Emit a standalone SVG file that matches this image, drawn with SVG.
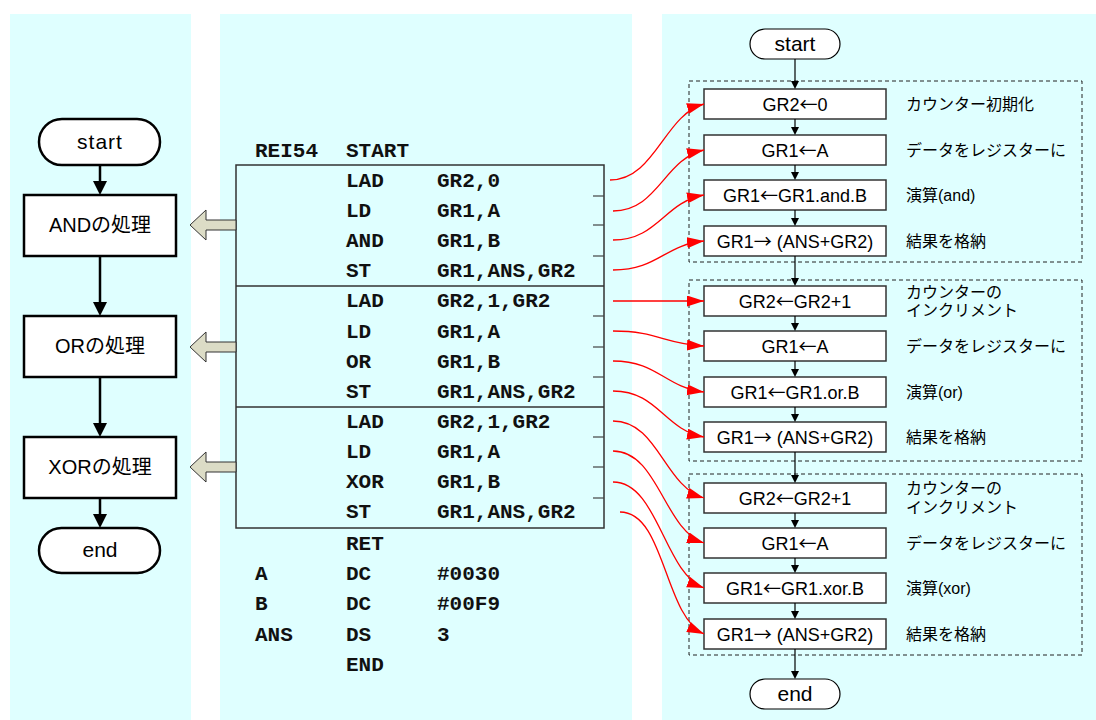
<svg xmlns="http://www.w3.org/2000/svg" width="1096" height="720" viewBox="0 0 1096 720">
<style>
.panel{fill:#DFFFFF}
.lbox{fill:#fff;stroke:#000;stroke-width:2.5}
.ltxt{font-family:"Liberation Sans","Noto Sans CJK JP",sans-serif;font-size:20px;fill:#000;text-anchor:middle}
.term{font-family:"Liberation Sans","Noto Sans CJK JP",sans-serif;font-size:21px;fill:#000;text-anchor:middle}
.rbox{fill:#fff;stroke:#333;stroke-width:1.5}
.rterm{fill:#fff;stroke:#000;stroke-width:1.2}
.rtxt{font-family:"Liberation Sans","Noto Sans CJK JP",sans-serif;font-size:18px;fill:#000;text-anchor:middle}
.ar{font-family:"Noto Sans CJK JP",sans-serif}
.cmt{font-family:"Liberation Sans","Noto Sans CJK JP",sans-serif;font-size:16px;fill:#000}
.code{font-family:"Liberation Mono","Courier New",monospace;font-weight:bold;font-size:21px;fill:#111}
.grp{fill:none;stroke:#222;stroke-width:1;stroke-dasharray:4 3}
.flow{stroke:#000;stroke-width:1.2;fill:none}
.lflow{stroke:#000;stroke-width:2.5;fill:none}
.red{stroke:#f00;stroke-width:1.3;fill:none;marker-end:url(#ra)}
.hollow{fill:#DCDCC6;stroke:#333;stroke-width:1}
.tick{stroke:#444;stroke-width:1.2}
</style>
<defs>
<marker id="ra" markerUnits="userSpaceOnUse" markerWidth="18" markerHeight="12" refX="17" refY="5.5" orient="auto">
<path d="M0,0 L17,5.5 L0,11 z" fill="#f00"/>
</marker>
</defs>

<!-- panels -->
<rect class="panel" x="10" y="14" width="181" height="706"/>
<rect class="panel" x="220" y="14" width="412" height="706"/>
<rect class="panel" x="662" y="14" width="434" height="706"/>

<!-- left flowchart -->
<g id="l-start"><rect class="lbox" x="39" y="119" width="121" height="46" rx="23"/><text class="term" x="100" y="149" letter-spacing="1">start</text></g>
<g id="l-and"><rect class="lbox" x="24" y="195" width="152" height="61"/><text class="ltxt" x="100" y="232">ANDの処理</text></g>
<g id="l-or"><rect class="lbox" x="24" y="316" width="152" height="61"/><text class="ltxt" x="100" y="353">ORの処理</text></g>
<g id="l-xor"><rect class="lbox" x="24" y="437" width="152" height="61"/><text class="ltxt" x="100" y="474">XORの処理</text></g>
<g id="l-end"><rect class="lbox" x="39" y="528" width="121" height="45" rx="22.5"/><text class="term" x="100" y="557">end</text></g>

<!-- code listing -->
<g id="code-block">
<rect x="236" y="165" width="368" height="363" fill="none" stroke="#333" stroke-width="1.5"/>
<line x1="236" y1="286" x2="604" y2="286" stroke="#333" stroke-width="1.5"/>
<line x1="236" y1="407" x2="604" y2="407" stroke="#333" stroke-width="1.5"/>
<line class="tick" x1="593" y1="196" x2="604" y2="196"/>
<line class="tick" x1="593" y1="225" x2="604" y2="225"/>
<line class="tick" x1="593" y1="256" x2="604" y2="256"/>
<line class="tick" x1="593" y1="316" x2="604" y2="316"/>
<line class="tick" x1="593" y1="347" x2="604" y2="347"/>
<line class="tick" x1="593" y1="377" x2="604" y2="377"/>
<line class="tick" x1="593" y1="437" x2="604" y2="437"/>
<line class="tick" x1="593" y1="467" x2="604" y2="467"/>
<line class="tick" x1="593" y1="498" x2="604" y2="498"/>
<text class="code" x="255" y="157">REI54</text><text class="code" x="346" y="157">START</text>
<text class="code" x="346" y="187">LAD</text><text class="code" x="437" y="187">GR2,0</text>
<text class="code" x="346" y="217">LD</text><text class="code" x="437" y="217">GR1,A</text>
<text class="code" x="346" y="247">AND</text><text class="code" x="437" y="247">GR1,B</text>
<text class="code" x="346" y="277">ST</text><text class="code" x="437" y="277">GR1,ANS,GR2</text>
<text class="code" x="346" y="307">LAD</text><text class="code" x="437" y="307">GR2,1,GR2</text>
<text class="code" x="346" y="338">LD</text><text class="code" x="437" y="338">GR1,A</text>
<text class="code" x="346" y="368">OR</text><text class="code" x="437" y="368">GR1,B</text>
<text class="code" x="346" y="398">ST</text><text class="code" x="437" y="398">GR1,ANS,GR2</text>
<text class="code" x="346" y="428">LAD</text><text class="code" x="437" y="428">GR2,1,GR2</text>
<text class="code" x="346" y="458">LD</text><text class="code" x="437" y="458">GR1,A</text>
<text class="code" x="346" y="488">XOR</text><text class="code" x="437" y="488">GR1,B</text>
<text class="code" x="346" y="518">ST</text><text class="code" x="437" y="518">GR1,ANS,GR2</text>
<text class="code" x="346" y="550">RET</text>
<text class="code" x="255" y="580">A</text><text class="code" x="346" y="580">DC</text><text class="code" x="437" y="580">#0030</text>
<text class="code" x="255" y="610">B</text><text class="code" x="346" y="610">DC</text><text class="code" x="437" y="610">#00F9</text>
<text class="code" x="255" y="641">ANS</text><text class="code" x="346" y="641">DS</text><text class="code" x="437" y="641">3</text>
<text class="code" x="346" y="671">END</text>
</g>

<!-- right flowchart groups -->
<rect class="grp" x="689" y="81" width="393" height="181"/>
<rect class="grp" x="689" y="280" width="393" height="181"/>
<rect class="grp" x="689" y="474" width="393" height="181"/>

<g id="r-start"><rect class="rterm" x="750" y="29" width="90" height="30" rx="15"/><text class="term" x="795" y="51">start</text></g>

<g id="r-b1"><rect class="rbox" x="704" y="89" width="182" height="30"/><text class="rtxt" x="795" y="110.5">GR2<tspan class="ar">←</tspan>0</text><text class="cmt" x="906" y="110">カウンター初期化</text></g>
<g id="r-b2"><rect class="rbox" x="704" y="135" width="182" height="30"/><text class="rtxt" x="795" y="156.5">GR1<tspan class="ar">←</tspan>A</text><text class="cmt" x="906" y="156">データをレジスターに</text></g>
<g id="r-b3"><rect class="rbox" x="704" y="180" width="182" height="30"/><text class="rtxt" x="795" y="201.5">GR1<tspan class="ar">←</tspan>GR1.and.B</text><text class="cmt" x="906" y="201">演算(and)</text></g>
<g id="r-b4"><rect class="rbox" x="704" y="226" width="182" height="30"/><text class="rtxt" x="795" y="247.5">GR1<tspan class="ar">→</tspan> (ANS+GR2)</text><text class="cmt" x="906" y="247">結果を格納</text></g>

<g id="r-b5"><rect class="rbox" x="704" y="286" width="182" height="30"/><text class="rtxt" x="795" y="307.5">GR2<tspan class="ar">←</tspan>GR2+1</text><text class="cmt" x="906" y="297.5">カウンターの</text><text class="cmt" x="906" y="316">インクリメント</text></g>
<g id="r-b6"><rect class="rbox" x="704" y="331" width="182" height="30"/><text class="rtxt" x="795" y="352.5">GR1<tspan class="ar">←</tspan>A</text><text class="cmt" x="906" y="352">データをレジスターに</text></g>
<g id="r-b7"><rect class="rbox" x="704" y="377" width="182" height="30"/><text class="rtxt" x="795" y="398.5">GR1<tspan class="ar">←</tspan>GR1.or.B</text><text class="cmt" x="906" y="398">演算(or)</text></g>
<g id="r-b8"><rect class="rbox" x="704" y="422" width="182" height="30"/><text class="rtxt" x="795" y="443.5">GR1<tspan class="ar">→</tspan> (ANS+GR2)</text><text class="cmt" x="906" y="443">結果を格納</text></g>

<g id="r-b9"><rect class="rbox" x="704" y="483" width="182" height="30"/><text class="rtxt" x="795" y="504.5">GR2<tspan class="ar">←</tspan>GR2+1</text><text class="cmt" x="906" y="494">カウンターの</text><text class="cmt" x="906" y="513">インクリメント</text></g>
<g id="r-b10"><rect class="rbox" x="704" y="528" width="182" height="30"/><text class="rtxt" x="795" y="549.5">GR1<tspan class="ar">←</tspan>A</text><text class="cmt" x="906" y="549">データをレジスターに</text></g>
<g id="r-b11"><rect class="rbox" x="704" y="573" width="182" height="30"/><text class="rtxt" x="795" y="594.5">GR1<tspan class="ar">←</tspan>GR1.xor.B</text><text class="cmt" x="906" y="594">演算(xor)</text></g>
<g id="r-b12"><rect class="rbox" x="704" y="619" width="182" height="30"/><text class="rtxt" x="795" y="640.5">GR1<tspan class="ar">→</tspan> (ANS+GR2)</text><text class="cmt" x="906" y="640">結果を格納</text></g>

<g id="r-end"><rect class="rterm" x="750" y="679" width="90" height="30" rx="15"/><text class="term" x="795" y="701">end</text></g>

<!-- connectors -->
<g id="connectors">
<line class="lflow" x1="100" y1="165" x2="100" y2="182"/><polygon points="93,181 107,181 100,195"/>
<line class="lflow" x1="100" y1="256" x2="100" y2="303"/><polygon points="93,302 107,302 100,316"/>
<line class="lflow" x1="100" y1="377" x2="100" y2="424"/><polygon points="93,423 107,423 100,437"/>
<line class="lflow" x1="100" y1="498" x2="100" y2="515"/><polygon points="93,514 107,514 100,528"/>
<polygon class="hollow" points="190,225 206,210 206,220 236,220 236,230 206,230 206,240"/>
<polygon class="hollow" points="190,347 206,332 206,342 236,342 236,352 206,352 206,362"/>
<polygon class="hollow" points="190,467 206,452 206,462 236,462 236,472 206,472 206,482"/>
<line class="flow" x1="795" y1="59" x2="795" y2="82"/><polygon points="791,81 799,81 795,89"/>
<line class="flow" x1="795" y1="119" x2="795" y2="128"/><polygon points="791,127 799,127 795,135"/>
<line class="flow" x1="795" y1="165" x2="795" y2="173"/><polygon points="791,172 799,172 795,180"/>
<line class="flow" x1="795" y1="210" x2="795" y2="219"/><polygon points="791,218 799,218 795,226"/>
<line class="flow" x1="795" y1="256" x2="795" y2="279"/><polygon points="791,278 799,278 795,286"/>
<line class="flow" x1="795" y1="316" x2="795" y2="324"/><polygon points="791,323 799,323 795,331"/>
<line class="flow" x1="795" y1="361" x2="795" y2="370"/><polygon points="791,369 799,369 795,377"/>
<line class="flow" x1="795" y1="407" x2="795" y2="415"/><polygon points="791,414 799,414 795,422"/>
<line class="flow" x1="795" y1="452" x2="795" y2="476"/><polygon points="791,475 799,475 795,483"/>
<line class="flow" x1="795" y1="513" x2="795" y2="521"/><polygon points="791,520 799,520 795,528"/>
<line class="flow" x1="795" y1="558" x2="795" y2="566"/><polygon points="791,565 799,565 795,573"/>
<line class="flow" x1="795" y1="603" x2="795" y2="612"/><polygon points="791,611 799,611 795,619"/>
<line class="flow" x1="795" y1="649" x2="795" y2="672"/><polygon points="791,671 799,671 795,679"/>
<path class="red" d="M610,180 C655,180 664,115 704,104"/>
<path class="red" d="M613,211 C658,211 664,159 704,150"/>
<path class="red" d="M613,240 C658,240 664,202 704,195"/>
<path class="red" d="M613,270 C658,270 664,245 704,241"/>
<path class="red" d="M613,301 L704,301"/>
<path class="red" d="M613,331 C658,331 664,344 704,346"/>
<path class="red" d="M613,361 C658,361 664,387 704,392"/>
<path class="red" d="M613,391 C658,391 664,430 704,437"/>
<path class="red" d="M613,421 C658,421 664,486 704,498"/>
<path class="red" d="M613,451 C658,451 664,530 704,543"/>
<path class="red" d="M613,482 C658,482 664,573 704,588"/>
<path class="red" d="M620,512 C665,512 664,616 704,634"/>
</g>
</svg>
